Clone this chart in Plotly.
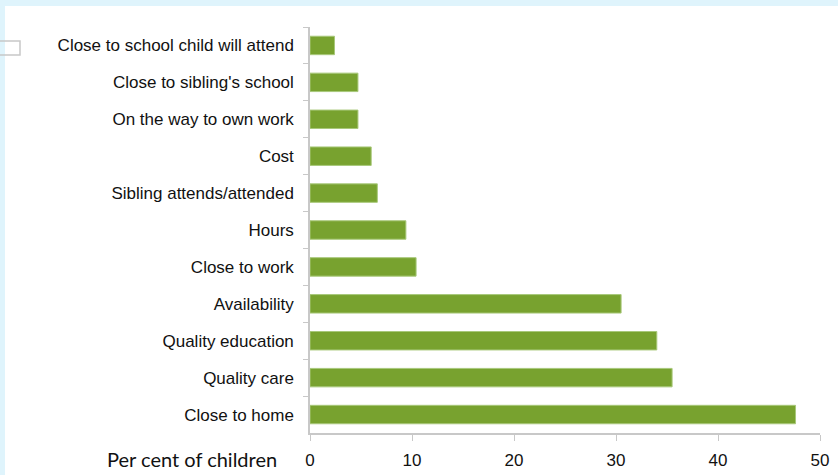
import plotly.graph_objects as go

# Reasons for choosing a child care service (top to bottom)
reasons = [
    "Close to school child will attend",
    "Close to sibling's school",
    "On the way to own work",
    "Cost",
    "Sibling attends/attended",
    "Hours",
    "Close to work",
    "Availability",
    "Quality education",
    "Quality care",
    "Close to home",
]
percent = [2.4, 4.7, 4.7, 6.0, 6.6, 9.4, 10.4, 30.5, 34.0, 35.5, 47.6]
x_ticks = [0, 10, 20, 30, 40, 50]

W, H = 838, 475
L, R, T, B = 310, 18, 27, 42
pw, ph = W - L - R, H - T - B


def px(x):
    return (x - L) / pw


def py(y):
    return (H - B - y) / ph


fig = go.Figure(
    go.Bar(
        x=percent,
        y=reasons,
        orientation="h",
        marker=dict(color="#78a22f", line=dict(color="#a8c87a", width=1)),
        width=0.5,
    )
)

fig.update_layout(
    width=W,
    height=H,
    margin=dict(l=L, r=R, t=T, b=B),
    paper_bgcolor="white",
    plot_bgcolor="white",
    showlegend=False,
    font=dict(family="Liberation Sans, Arial, sans-serif", size=17, color="#111111"),
    xaxis=dict(
        range=[0, 50],
        tickvals=x_ticks,
        showgrid=False,
        zeroline=False,
        showline=True,
        linecolor="#c8c8c8",
        linewidth=1.5,
        ticks="outside",
        ticklen=6,
        tickcolor="#c8c8c8",
        tickfont=dict(size=17),
        ticklabelstandoff=5,
        automargin=False,
    ),
    yaxis=dict(
        autorange="reversed",
        showgrid=False,
        zeroline=False,
        showline=True,
        linecolor="#c8c8c8",
        linewidth=1.5,
        ticks="outside",
        tickson="boundaries",
        ticklen=5,
        tickcolor="#c8c8c8",
        tickfont=dict(size=17),
        ticklabelstandoff=11,
        automargin=False,
    ),
    annotations=[
        dict(
            text="Per cent of children",
            xref="paper",
            yref="paper",
            x=px(279),
            y=py(459),
            xanchor="right",
            yanchor="middle",
            showarrow=False,
            font=dict(family="Lato, Liberation Sans, sans-serif", size=20, color="#111111"),
        )
    ],
    shapes=[
        # light blue frame along the top and left edges
        dict(type="rect", xref="paper", yref="paper", x0=px(0), x1=px(W), y0=py(6), y1=py(0),
             fillcolor="#dff4fc", line=dict(width=0), layer="below"),
        dict(type="rect", xref="paper", yref="paper", x0=px(0), x1=px(5), y0=py(H), y1=py(0),
             fillcolor="#dff4fc", line=dict(width=0), layer="below"),
        # small grey outline box beside the top label
        dict(type="rect", xref="paper", yref="paper", x0=px(-2), x1=px(20), y0=py(55), y1=py(41),
             fillcolor="rgba(0,0,0,0)", line=dict(color="#c8c8c8", width=1.5)),
    ],
)

fig.write_html("out.html")
